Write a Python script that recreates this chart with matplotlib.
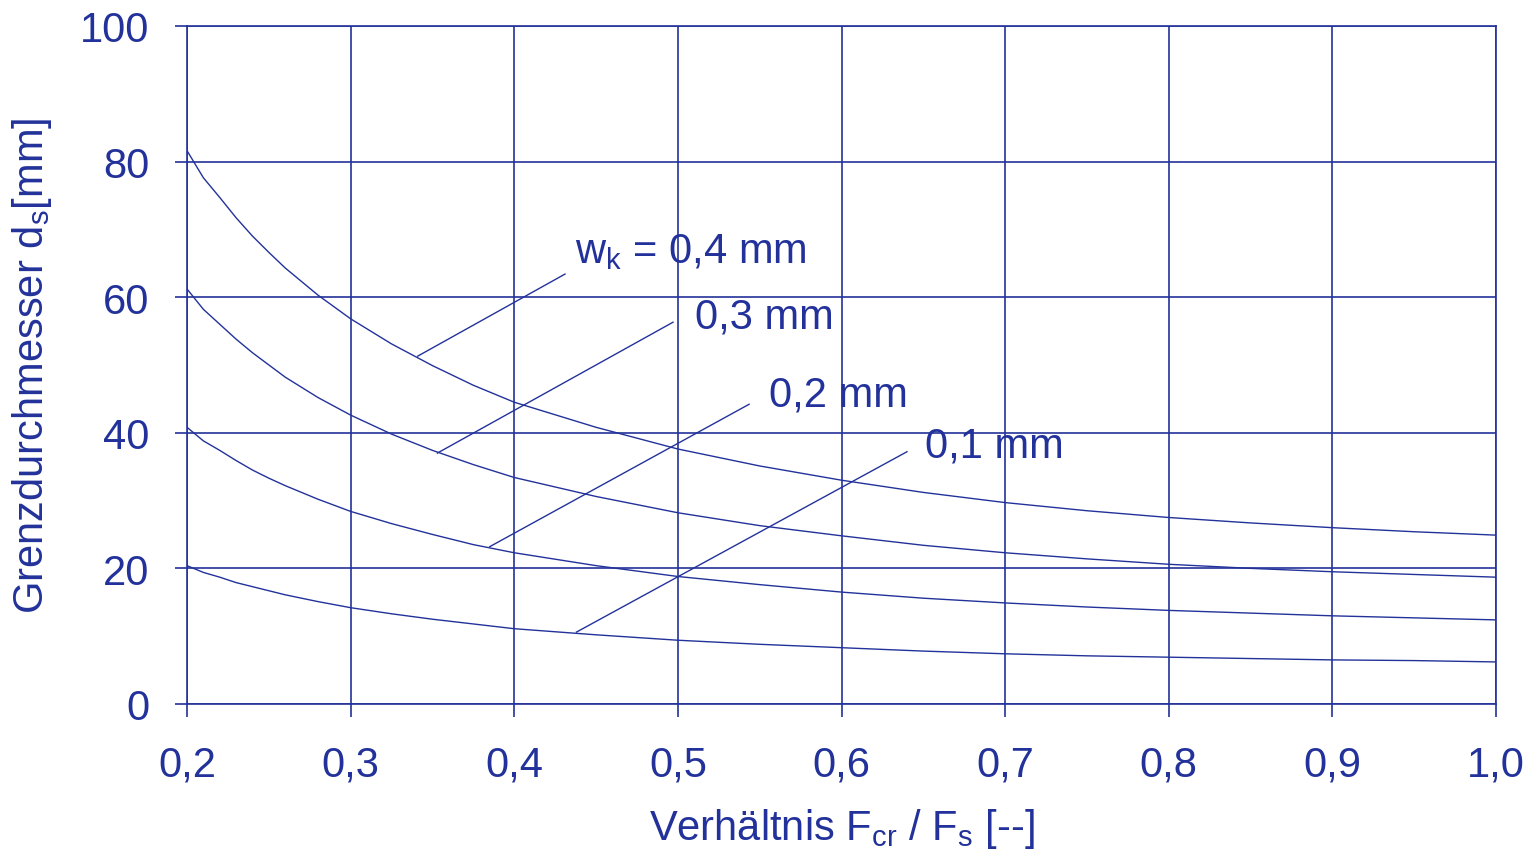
import matplotlib
matplotlib.use('Agg')
from matplotlib import pyplot as plt

plt.rcParams['font.family'] = ['Liberation Sans', 'DejaVu Sans']
plt.rcParams['mathtext.fontset'] = 'custom'
plt.rcParams['mathtext.rm'] = 'Liberation Sans'
plt.rcParams['mathtext.it'] = 'Liberation Sans'

blue = '#22329a'

# ratio F_cr / F_s
ratio = [0.2, 0.21, 0.22, 0.23, 0.24, 0.25, 0.26, 0.28, 0.3, 0.325, 0.35, 0.375, 0.4,
         0.45, 0.5, 0.55, 0.6, 0.65, 0.7, 0.75, 0.8, 0.85, 0.9, 0.95, 1.0]

# limit diameter d_s [mm] for each crack width w_k
d_04 = [81.6, 77.6, 74.7, 71.7, 69.0, 66.6, 64.3, 60.3, 56.8, 53.1, 49.9, 47.0, 44.5,
        40.8, 37.6, 35.1, 33.0, 31.2, 29.7, 28.5, 27.5, 26.7, 26.0, 25.4, 24.9]
d_03 = [61.2, 58.2, 56.0, 53.8, 51.8, 50.0, 48.2, 45.2, 42.6, 39.8, 37.4, 35.3, 33.4,
        30.6, 28.2, 26.3, 24.8, 23.4, 22.3, 21.4, 20.6, 20.0, 19.5, 19.1, 18.7]
d_02 = [40.8, 38.8, 37.4, 35.9, 34.5, 33.3, 32.2, 30.2, 28.4, 26.6, 25.0, 23.5, 22.3,
        20.4, 18.8, 17.6, 16.5, 15.6, 14.9, 14.3, 13.8, 13.4, 13.0, 12.7, 12.4]
d_01 = [20.4, 19.4, 18.7, 17.9, 17.3, 16.7, 16.1, 15.1, 14.2, 13.3, 12.5, 11.8, 11.1,
        10.2, 9.4, 8.8, 8.3, 7.8, 7.4, 7.1, 6.9, 6.7, 6.5, 6.4, 6.2]

labels = [r'w$_\mathregular{k}$ = 0,4 mm', '0,3 mm', '0,2 mm', '0,1 mm']
# leader line: point on curve -> near label
lead_from = [(0.341, 51.3), (0.353, 37.0), (0.385, 23.2), (0.438, 10.6)]
lead_to = [(0.431, 63.4), (0.497, 56.3), (0.5435, 44.2), (0.640, 37.2)]
label_pos = [(0.437, 66.8), (0.5105, 57.1), (0.5557, 45.7), (0.651, 38.1)]

fig = plt.figure(figsize=(15.33, 8.54), dpi=100)
ax = fig.add_axes([0.122, 0.1745, 0.8539, 0.794])

for d in [d_04, d_03, d_02, d_01]:
    ax.plot(ratio, d, color=blue, lw=1.0)

for lbl, p0, p1, pt in zip(labels, lead_from, lead_to, label_pos):
    ax.plot([p0[0], p1[0]], [p0[1], p1[1]], color=blue, lw=1.0)
    ax.text(pt[0], pt[1], lbl, color=blue, fontsize=30, ha='left', va='center')

ax.set_xlim(0.2, 1.0)
ax.set_ylim(0, 100)
ax.set_xticks([0.2, 0.3, 0.4, 0.5, 0.6, 0.7, 0.8, 0.9, 1.0])
ax.set_xticklabels(['0,2', '0,3', '0,4', '0,5', '0,6', '0,7', '0,8', '0,9', '1,0'])
ax.set_yticks([0, 20, 40, 60, 80, 100])
ax.grid(True, color=blue, lw=1.2)
ax.tick_params(colors=blue, labelcolor=blue, labelsize=30, length=9, width=1.2,
               direction='out')
ax.tick_params(axis='x', pad=20)
ax.tick_params(axis='y', pad=18)
for s in ax.spines.values():
    s.set_color(blue)
    s.set_linewidth(1.2)

ax.set_xlabel(r'Verhältnis F$_\mathregular{cr}$ / F$_\mathregular{s}$ [--]', color=blue, fontsize=30)
ax.set_ylabel(r'Grenzdurchmesser d$_\mathregular{s}$[mm]', color=blue, fontsize=30)
ax.xaxis.set_label_coords(0.5, -0.15)
ax.yaxis.set_label_coords(-0.102, 0.5)

plt.savefig('out.png', dpi=100)
